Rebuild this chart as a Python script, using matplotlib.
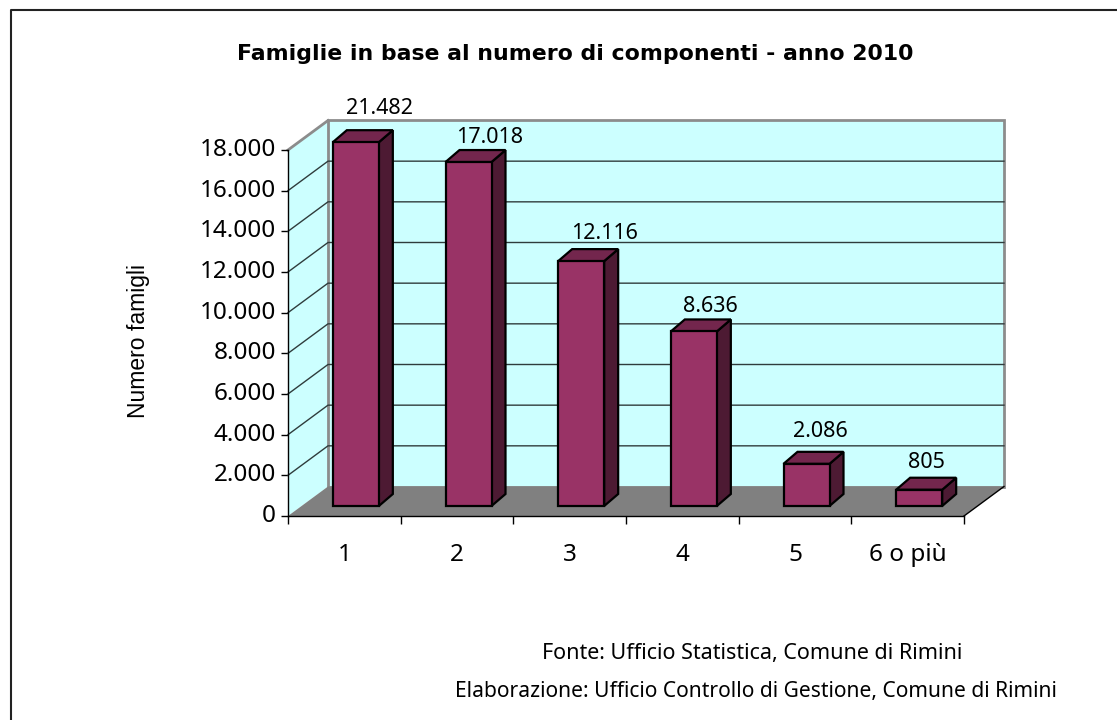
import matplotlib
matplotlib.use('Agg')
import matplotlib.pyplot as plt
from matplotlib.patches import Polygon, Rectangle
from matplotlib.transforms import ScaledTranslation

W, H = 1117, 720

categories = ['1', '2', '3', '4', '5', '6 o più']
values = [21482, 17018, 12116, 8636, 2086, 805]
value_labels = ['21.482', '17.018', '12.116', '8.636', '2.086', '805']
yticks = [0, 2000, 4000, 6000, 8000, 10000, 12000, 14000, 16000, 18000]
ytick_labels = ['0', '2.000', '4.000', '6.000', '8.000', '10.000', '12.000', '14.000', '16.000', '18.000']
ymax = 18000

# label shift from the bar top, pixels
label_dx = [24, 21, 23, 17, 14, 7]
label_dy = [22, 13, 16, 13, 20, 15]

plt.rcParams['font.family'] = ['Noto Sans', 'DejaVu Sans']

fig = plt.figure(figsize=(W / 100, H / 100), dpi=100, facecolor='white')

# front plane of the fake 3d box, in pixels
left, right, top, bottom = 288, 964, 150, 516
ax = fig.add_axes([left / W, 1 - bottom / H, (right - left) / W, (bottom - top) / H])
ax.set_xlim(0, len(categories))
ax.set_ylim(0, ymax)
ax.patch.set_visible(False)

# pixel to data conversion for the depth offsets
px = len(categories) / (right - left)
py = ymax / (bottom - top)
depth_x, depth_y = 40 * px, 29.5 * py
wall = '#ccffff'
edge = '#8c8c8c'

# walls and floor
ax.add_patch(Polygon([(0, 0), (depth_x, depth_y), (depth_x, ymax + depth_y), (0, ymax)],
                     fc=wall, ec='none', clip_on=False, zorder=1))
ax.add_patch(Rectangle((depth_x, depth_y), 6, ymax, fc=wall, ec=edge, lw=2, clip_on=False, zorder=1))
ax.plot([0, depth_x], [ymax, ymax + depth_y], color=edge, lw=2, clip_on=False, zorder=1.5)
ax.add_patch(Polygon([(0, 0), (6, 0), (6 + depth_x, depth_y), (depth_x, depth_y)],
                     fc='#808080', ec='none', clip_on=False, zorder=2))
ax.plot([6, 6 + depth_x], [0, depth_y], color='black', lw=1, clip_on=False, zorder=2.5)

# gridlines on side and back wall
for t in yticks[1:-1]:
    ax.plot([0, depth_x, 6 + depth_x], [t, t + depth_y, t + depth_y], color='#2f3c3c', lw=1,
            clip_on=False, zorder=1.8)

# bars
bar_w = 46 * px
gap_x, gap_y = 11.5 * px, 10 * py
side_x, side_y = 14 * px, 12 * py
bar_scale = 0.994
for i, (v, lab) in enumerate(zip(values, value_labels)):
    x0 = i + 0.5 - bar_w / 2 + gap_x
    x1 = x0 + bar_w
    y0 = gap_y
    y1 = gap_y + min(v, ymax) * bar_scale
    kw = dict(ec='black', lw=1.6, joinstyle='miter', clip_on=False, zorder=5)
    ax.add_patch(Polygon([(x1, y0), (x1 + side_x, y0 + side_y), (x1 + side_x, y1 + side_y), (x1, y1)],
                         fc='#4d1a33', **kw))
    ax.add_patch(Polygon([(x0, y1), (x1, y1), (x1 + side_x, y1 + side_y), (x0 + side_x, y1 + side_y)],
                         fc='#73264d', **kw))
    ax.add_patch(Rectangle((x0, y0), bar_w, y1 - y0, fc='#993366', **kw))
    ax.annotate(lab, (x0 + bar_w / 2, y1 + side_y), xytext=(label_dx[i], label_dy[i]),
                textcoords='offset pixels', ha='center', va='center', fontsize=15.5, color='black',
                zorder=6, annotation_clip=False)

# axes
for s in ['top', 'right']:
    ax.spines[s].set_visible(False)
ax.spines['left'].set_linewidth(1)
ax.spines['bottom'].set_linewidth(1)
ax.spines['left'].set_zorder(3)
ax.spines['bottom'].set_zorder(3)
ax.set_yticks(yticks)
ax.set_yticklabels(ytick_labels, fontsize=17.5)
ax.tick_params(axis='y', length=5, width=1, pad=3.5)
up = ScaledTranslation(0, 3 / 100, fig.dpi_scale_trans)
for label in ax.get_yticklabels():
    label.set_transform(label.get_transform() + up)
ax.set_xticks(range(len(categories) + 1))
ax.set_xticklabels([])
ax.tick_params(axis='x', length=5.8, width=1)
for i, c in enumerate(categories):
    ax.annotate(c, (i + 0.5, 0), xytext=(0, -39), textcoords='offset pixels', ha='center', va='center',
                fontsize=17.5)

fig.text(575 / W, 1 - 54 / H, 'Famiglie in base al numero di componenti - anno 2010', ha='center', va='center',
         fontsize=15.8, fontweight='bold', family='DejaVu Sans')
fig.text(139 / W, 1 - 341 / H, 'Numero famigli', rotation=90, ha='center', va='center', fontsize=16.5,
         family='Liberation Sans')
fig.text(752 / W, 1 - 654 / H, 'Fonte: Ufficio Statistica, Comune di Rimini', ha='center', va='center',
         fontsize=15.5)
fig.text(755.5 / W, 1 - 692 / H, 'Elaborazione: Ufficio Controllo di Gestione, Comune di Rimini', ha='center',
         va='center', fontsize=15.1)

# outer frame, only top and left are inside the picture
fig.add_artist(plt.Line2D([11 / W, 11 / W, 1], [0, 1 - 9.5 / H, 1 - 9.5 / H], transform=fig.transFigure,
                          color='#222222', lw=1.5))

fig.savefig('out.png', dpi=100)
